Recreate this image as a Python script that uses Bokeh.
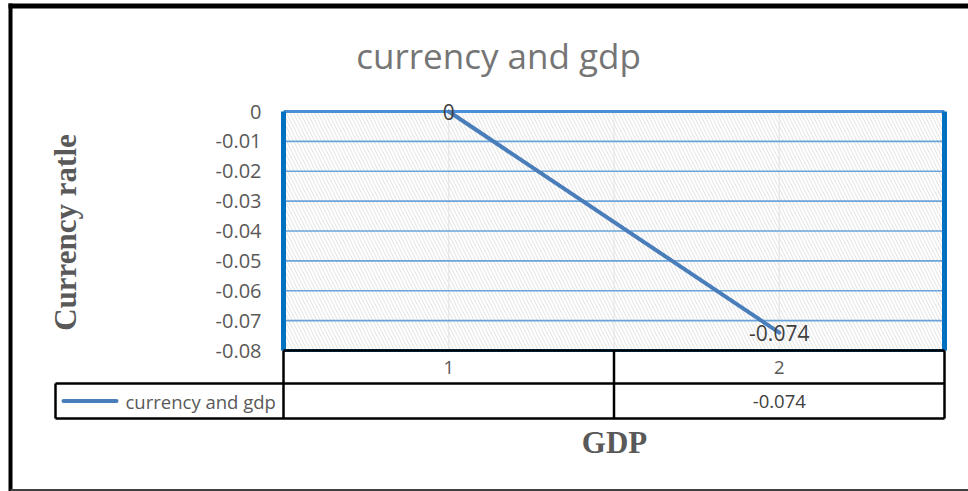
import math
from bokeh.plotting import figure
from bokeh.models import Range1d
from bokeh.core.properties import value
from bokeh.embed import file_html
from bokeh.resources import INLINE

# ---------------- data ----------------
categories = ["1", "2"]
series_name = "currency and gdp"
series_values = [0.0, -0.074]
data_labels = ["0", "-0.074"]
table_values = ["", "-0.074"]
y_ticks = [0.0, -0.01, -0.02, -0.03, -0.04, -0.05, -0.06, -0.07, -0.08]
y_tick_labels = ["0", "-0.01", "-0.02", "-0.03", "-0.04", "-0.05", "-0.06", "-0.07", "-0.08"]
chart_title = "currency and gdp"
x_title = "GDP"
y_title = "Currency ratle"

# ---------------- layout (pixels) ----------------
W, H = 968, 491
PX0, PX1 = 283, 944      # plot area left / right
PY0, PY1 = 111, 350      # plot area top / bottom
ymax, ymin = max(y_ticks), min(y_ticks)
n = len(categories)

sx = (PX1 - PX0) / n
sy = (PY1 - PY0) / (ymax - ymin)
x_start, x_end = -PX0 / sx, (W - PX0) / sx
y_end = ymax + PY0 / sy
y_start = ymax - (H - PY0) / sy

def X(px):
    return x_start + px / sx

def Y(py):
    return y_end - py / sy

p = figure(width=W, height=H, output_backend="svg", toolbar_location=None,
           x_range=Range1d(x_start, x_end), y_range=Range1d(y_start, y_end),
           min_border=0, min_border_left=0, min_border_right=0,
           min_border_top=0, min_border_bottom=0)
p.axis.visible = False
p.grid.visible = False
p.outline_line_color = None
p.background_fill_color = "white"
p.border_fill_color = "white"

FONT = value("Open Sans")
SERIF = value("Liberation Serif")
GRAY = "#595959"

# outer chart border
p.segment(x0=[X(8)], y0=[Y(5.5)], x1=[X(970)], y1=[Y(5.5)], line_color="black", line_width=5)
p.segment(x0=[X(10)], y0=[Y(3)], x1=[X(10)], y1=[Y(491)], line_color="black", line_width=4)
p.segment(x0=[X(10)], y0=[Y(489.5)], x1=[X(970)], y1=[Y(489.5)], line_color="#404040", line_width=2)

# hatched plot area
p.quad(left=[0], right=[n], bottom=[ymin], top=[ymax], fill_color="white",
       hatch_pattern="\\", hatch_color="#e2e2e2", hatch_scale=7, hatch_weight=1,
       line_color=None)

# vertical light gridlines (category centres and boundaries)
vx = [i * 0.5 for i in range(1, 2 * n)]
p.segment(x0=vx, y0=[ymin] * len(vx), x1=vx, y1=[ymax] * len(vx),
          line_color="#e3e3e3", line_width=1)

# horizontal gridlines
inner = [t for t in y_ticks if t not in (ymax, ymin)]
p.segment(x0=[0] * len(inner), y0=inner, x1=[n] * len(inner), y1=inner,
          line_color="#5b9bd5", line_width=1.6, line_alpha=0.9)
p.segment(x0=[0], y0=[ymax], x1=[n], y1=[ymax], line_color="#4a90d9", line_width=3)
p.segment(x0=[0], y0=[ymin], x1=[n], y1=[ymin], line_color="#0070c0", line_width=3)

# thick blue plot borders
p.segment(x0=[0, n], y0=[ymin, ymin], x1=[0, n], y1=[ymax, ymax],
          line_color="#0070c0", line_width=5)

# series line
xs = [i + 0.5 for i in range(n)]
p.line(xs, series_values, line_color="#4a7ebb", line_width=4, line_cap="round")

# data labels
p.text(x=xs, y=series_values, text=data_labels, text_align="center", text_baseline="middle",
       text_font=FONT, text_font_size="21px", text_color="#404040")

# y tick labels
p.text(x=[X(261)] * len(y_ticks), y=y_ticks, text=y_tick_labels, text_align="right",
       text_baseline="middle", text_font=FONT, text_font_size="20px", text_color=GRAY)

# ---------------- data table ----------------
r1, r2, r3 = PY1, 383, 418
lx = 55
bk = "black"
# horizontal lines
p.segment(x0=[0], y0=[Y(r1)], x1=[n], y1=[Y(r1)], line_color=bk, line_width=2.5)
p.segment(x0=[X(lx), X(lx)], y0=[Y(r2), Y(r3)], x1=[n, n], y1=[Y(r2), Y(r3)],
          line_color=bk, line_width=2.5)
# vertical lines
bx = list(range(n + 1))
p.segment(x0=bx, y0=[Y(r1)] * len(bx), x1=bx, y1=[Y(r3)] * len(bx), line_color=bk, line_width=2.5)
p.segment(x0=[X(lx)], y0=[Y(r2)], x1=[X(lx)], y1=[Y(r3)], line_color=bk, line_width=2.5)

# category labels
p.text(x=xs, y=[Y((r1 + r2) / 2)] * n, text=categories, text_align="center",
       text_baseline="middle", text_font=FONT, text_font_size="18.5px", text_color=GRAY)
# table values
p.text(x=xs, y=[Y((r2 + r3) / 2)] * n, text=table_values, text_align="center",
       text_baseline="middle", text_font=FONT, text_font_size="18.5px", text_color="#404040")
# legend key
p.line([X(63), X(116)], [Y((r2 + r3) / 2)] * 2, line_color="#4a7ebb", line_width=4, line_cap="round")
p.text(x=[X(125)], y=[Y((r2 + r3) / 2)], text=[series_name], text_align="left",
       text_baseline="middle", text_font=FONT, text_font_size="18.5px", text_color=GRAY)

# ---------------- titles ----------------
p.text(x=[X(498)], y=[Y(55)], text=[chart_title], text_align="center", text_baseline="middle",
       text_font=FONT, text_font_size="35px", text_color="#757575")
p.text(x=[X(614)], y=[Y(442)], text=[x_title], text_align="center", text_baseline="middle",
       text_font=SERIF, text_font_size="31px", text_font_style="bold", text_color=GRAY)
p.text(x=[X(65)], y=[Y(232)], text=[y_title], text_align="center", text_baseline="middle",
       angle=math.pi / 2, text_font=SERIF, text_font_size="31px", text_font_style="bold",
       text_color=GRAY)

open("out.html", "w").write(file_html(p, INLINE))
